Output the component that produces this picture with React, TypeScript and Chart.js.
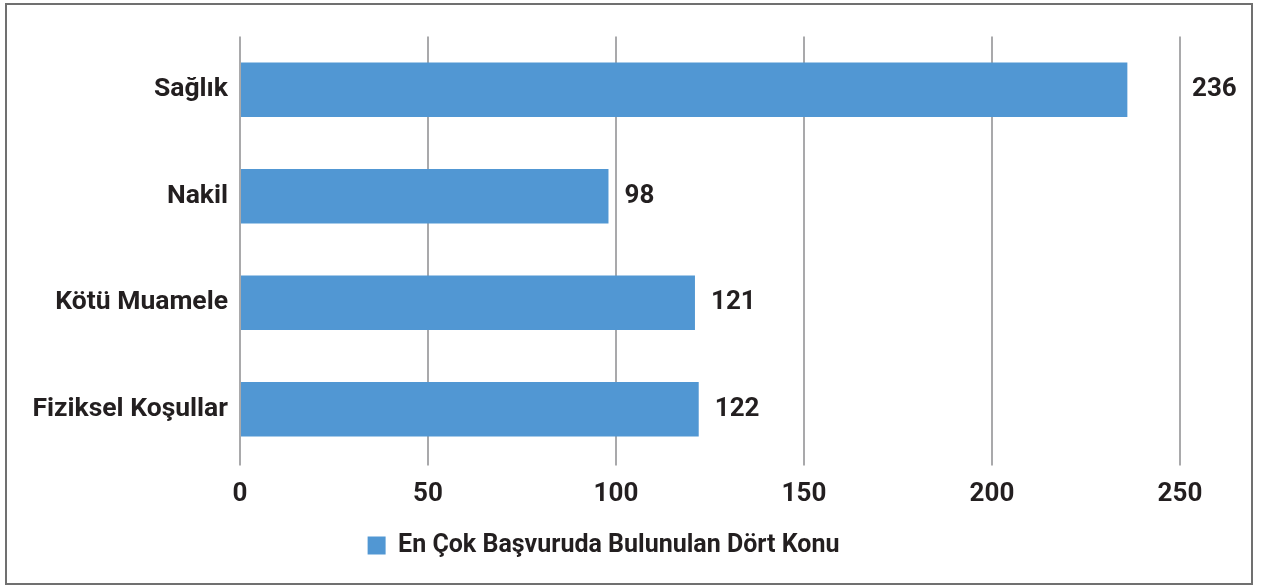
import React, { useEffect, useRef } from 'react';
import { Chart, registerables } from 'chart.js';

Chart.register(...registerables);

const categories = ['Sağlık', 'Nakil', 'Kötü Muamele', 'Fiziksel Koşullar'];
const values = [236, 98, 121, 122];
const seriesLabel = 'En Çok Başvuruda Bulunulan Dört Konu';
const xTicks = [0, 50, 100, 150, 200, 250];

const TEXT = '#231f20';
const BAR = '#5197d3';
const GRID = '#a9a9ab';
const FONT = 'Roboto';

export default function App() {
  const ref = useRef<HTMLCanvasElement | null>(null);

  useEffect(() => {
    if (!ref.current) return;
    const labelPlugin = {
      id: 'valueLabels',
      afterDatasetsDraw(chart: any) {
        const { ctx, scales } = chart;
        const meta = chart.getDatasetMeta(0);
        const gridXs = xTicks.map((v) => scales.x.getPixelForValue(v));
        ctx.save();
        ctx.font = `bold 26px ${FONT}`;
        ctx.fillStyle = TEXT;
        ctx.textBaseline = 'middle';
        ctx.textAlign = 'left';
        meta.data.forEach((bar: any, i: number) => {
          const text = String(values[i]);
          const w = ctx.measureText(text).width;
          let x = bar.x + 16;
          for (const gx of gridXs) {
            if (gx > x - 4 && gx < x + w + 4) x = gx + 12;
          }
          ctx.fillText(text, x, bar.y);
        });
        ctx.restore();
      },
    };

    const chart = new Chart(ref.current, {
      type: 'bar',
      data: {
        labels: categories,
        datasets: [
          {
            label: seriesLabel,
            data: values,
            backgroundColor: BAR,
            borderWidth: 0,
            barPercentage: 0.51,
            categoryPercentage: 1,
          },
        ],
      },
      options: {
        indexAxis: 'y',
        animation: false,
        responsive: true,
        maintainAspectRatio: false,
        layout: { padding: { top: 31.5, right: 71, bottom: 15, left: 20 } },
        plugins: {
          tooltip: { enabled: false },
          legend: {
            position: 'bottom',
            labels: {
              boxWidth: 18,
              boxHeight: 18,
              padding: 10,
              color: TEXT,
              font: { family: FONT, size: 25, weight: 'bold' },
            },
          },
        },
        scales: {
          x: {
            type: 'linear',
            min: 0,
            max: 250,
            ticks: {
              stepSize: 50,
              color: TEXT,
              padding: 13,
              font: { family: FONT, size: 26, weight: 'bold' },
            },
            grid: { color: GRID, lineWidth: 2, drawTicks: true, tickLength: 3 },
            border: { display: false },
            afterFit: (s: any) => {
              s.height = 60.5;
            },
          },
          y: {
            ticks: {
              color: TEXT,
              padding: 12,
              font: { family: FONT, size: 26.5, weight: 'bold' },
            },
            grid: { display: false, drawTicks: false },
            border: { display: false },
            afterFit: (s: any) => {
              s.width = 213;
            },
          },
        },
      },
      plugins: [labelPlugin],
    } as any);

    return () => chart.destroy();
  }, []);

  return (
    <div
      style={{
        position: 'absolute',
        left: 5,
        top: 3,
        width: 1248,
        height: 582,
        border: '2px solid #707070',
        boxSizing: 'border-box',
        background: '#fff',
      }}
    >
      <canvas ref={ref} />
    </div>
  );
}
